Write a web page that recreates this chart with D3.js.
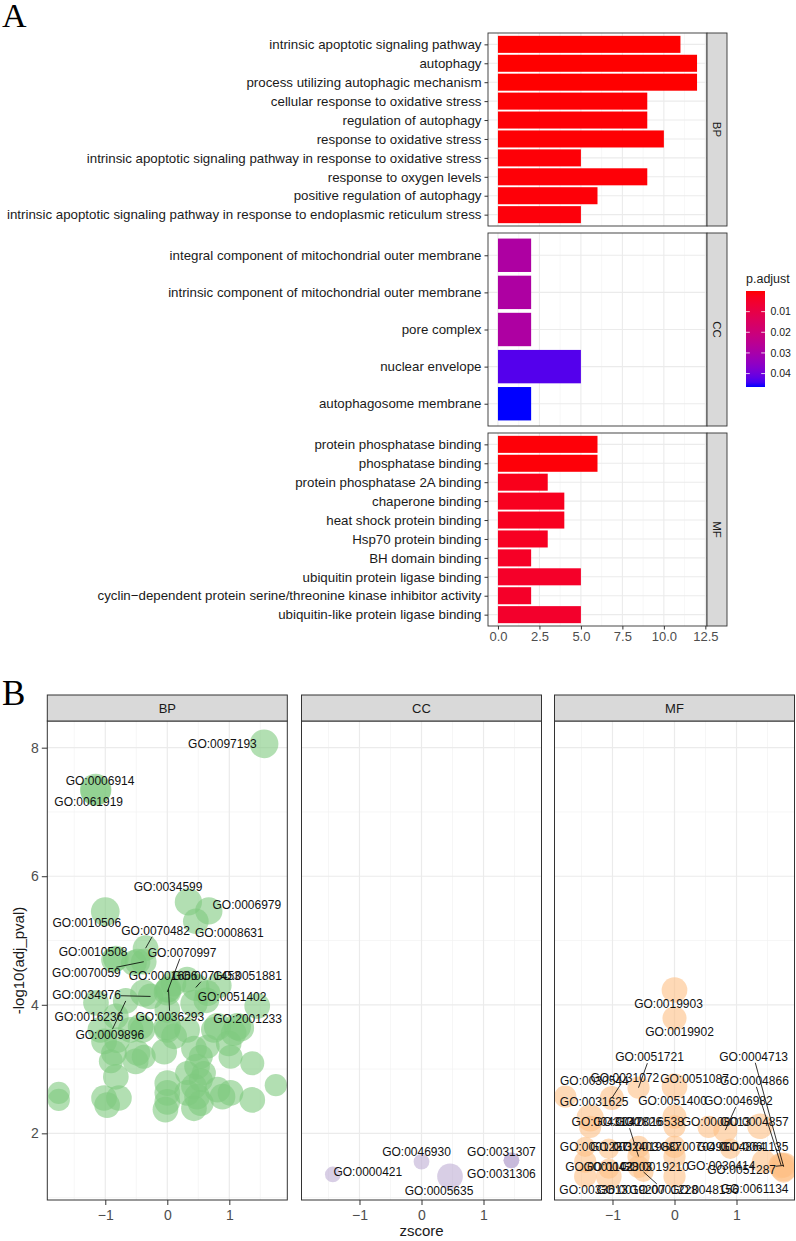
<!DOCTYPE html>
<html><head><meta charset="utf-8">
<script src="https://cdn.jsdelivr.net/npm/d3@7"></script>
<style>body{margin:0;background:#fff}</style>
</head><body><svg id="c" width="796" height="1241" xmlns="http://www.w3.org/2000/svg"></svg>
<script>
// ---------- Panel A data ----------
const bpTerms = ["intrinsic apoptotic signaling pathway","autophagy","process utilizing autophagic mechanism","cellular response to oxidative stress","regulation of autophagy","response to oxidative stress","intrinsic apoptotic signaling pathway in response to oxidative stress","response to oxygen levels","positive regulation of autophagy","intrinsic apoptotic signaling pathway in response to endoplasmic reticulum stress"];
const bpCounts = [11,12,12,9,9,10,5,9,6,5];
const bpPadj = [0.00002,0.00001,0.00001,0.0003,0.0004,0.0003,0.0005,0.0005,0.0006,0.0008];

const ccTerms = ["integral component of mitochondrial outer membrane","intrinsic component of mitochondrial outer membrane","pore complex","nuclear envelope","autophagosome membrane"];
const ccCounts = [2,2,2,5,2];
const ccPadj = [0.0285,0.0285,0.0285,0.043,0.0465];

const mfTerms = ["protein phosphatase binding","phosphatase binding","protein phosphatase 2A binding","chaperone binding","heat shock protein binding","Hsp70 protein binding","BH domain binding","ubiquitin protein ligase binding","cyclin\u2212dependent protein serine/threonine kinase inhibitor activity","ubiquitin-like protein ligase binding"];
const mfCounts = [6,6,3,4,4,3,2,5,2,5];
const mfPadj = [0.0006,0.0006,0.0025,0.003,0.003,0.0035,0.004,0.0045,0.0045,0.005];

const countTicks = [0,2.5,5,7.5,10,12.5];
const padjTicks = [0.01,0.02,0.03,0.04];

// ---------- Panel B data: [id, zscore, -log10(adj_pval), count] ----------
const bpBubbles = [
 ["GO:0097193",1.56,8.06,10],["GO:0006914",-1.155,7.35,12],["GO:0061919",-1.155,7.33,11],
 ["GO:0034599",0.34,5.60,9],["GO:0006979",0.67,5.46,9],["GO:0008631",0.46,5.30,8],
 ["GO:0010506",-1.0,5.45,10],["GO:0070482",-0.35,4.88,8],["GO:0010508",-0.83,4.72,8],
 ["GO:0070059",-0.38,4.67,8],["GO:0034976",-0.27,4.13,8],["GO:0016236",-1.15,4.03,8],
 ["GO:0009896",-0.67,4.06,8],["GO:0070997",0.0,4.20,9],["GO:0036293",0.02,4.24,8],
 ["GO:0001666",0.1,4.33,8],["GO:0071453",0.46,4.27,9],["GO:0051881",0.83,4.30,8],
 ["GO:0051402",0.63,4.07,8],["GO:2001233",1.45,3.98,8],
 ["",-0.48,4.67,8],["",-0.38,4.18,9],["",0.32,4.39,8],["",0.43,4.02,9],["",0.81,3.66,9],
 ["",1.13,3.66,9],["",-0.40,3.61,8],["",0,3.66,9],["",-1.75,2.63,6],["",-1.75,2.52,6],
 ["",-1.02,2.55,8],["",-0.97,2.44,8],["",-0.78,2.55,8],["",-0.83,2.88,8],["",-0.91,3.12,7],
 ["",-0.86,3.25,8],["",-1.02,3.43,8],["",-0.81,3.45,8],["",-0.48,3.25,8],["",-0.51,3.12,8],
 ["",-0.38,3.19,7],["",-0.43,3.66,8],["",-0.59,3.61,8],["",0,2.78,8],["",0,2.63,8],
 ["",0,2.49,8],["",-0.03,2.37,8],["",-0.05,3.27,8],["",0,3.61,8],["",0.11,3.51,8],
 ["",0.43,2.39,8],["",0.48,2.57,8],["",0.43,2.73,8],["",0.54,2.83,7],["",0.32,2.94,7],
 ["",0.48,3.04,8],["",0.54,3.19,7],["",0.43,3.32,8],["",0.65,3.35,7],["",0.32,3.61,8],
 ["",0.81,2.68,8],["",0.89,2.57,8],["",1.02,2.63,8],["",1.37,2.52,8],["",1.37,3.09,7],
 ["",1.75,2.75,6],["",1.02,3.19,7],["",0.99,3.40,8],["",1.07,3.56,8],["",1.18,3.64,9],
 ["",0.75,3.61,8],["",0.59,2.94,7],["",0.32,2.63,8],["",0.54,2.47,8],["",-0.86,4.70,8],
 ["",-0.54,4.65,8],["",0,4.23,8],["",0.65,4.18,8],["",0,3.92,8],["",-0.83,3.82,8],
 ["",-1.08,3.61,8]
];
const ccBubbles = [
 ["GO:0000421",-1.43,1.36,3],["GO:0046930",0,1.56,3],["GO:0005635",0.46,1.33,8],
 ["GO:0031307",1.45,1.58,3],["GO:0031306",1.45,1.58,3]
];
const mfBubbles = [
 ["GO:0019903",0,4.23,8],["GO:0019902",0,3.79,7],["GO:0051721",-0.58,2.71,6],
 ["GO:0031072",-1.01,2.55,7],["GO:0030544",-1.76,2.57,6],["GO:0031625",-1.36,2.24,9],
 ["GO:0051087",0,2.73,8],["GO:0051400",0,2.26,7],["GO:0046982",0.82,2.05,7],
 ["GO:0004713",1.76,1.48,10],["GO:0004866",1.72,1.50,8],["GO:0004857",1.38,2.11,8],
 ["GO:0008013",0.55,2.10,6],["GO:0043130",-1.36,2.10,6],["GO:0042826",-0.58,1.64,6],
 ["GO:0016538",0,2.11,6],["GO:0001227",-1.44,1.79,5],["GO:0032403",-1.06,1.76,5],
 ["GO:0019887",-0.58,1.79,6],["GO:0070491",0,1.79,6],["GO:0004864",0.9,1.76,5],
 ["GO:0061135",1.44,1.56,7],["GO:0001102",-1.44,1.56,6],["GO:0042803",-1.06,1.45,5],
 ["GO:0019210",-0.58,1.48,6],["GO:0030414",0,1.64,6],["GO:0051287",1.76,1.50,7],
 ["GO:0033613",-1.44,1.33,6],["GO:0019207",-1.06,1.33,8],["GO:0001228",-0.5,1.40,5],
 ["GO:0048156",0,1.33,6],["GO:0061134",1.76,1.42,7]
];
const zTicks = [-1,0,1];
const pvalTicks = [2,4,6,8];

// ---------- label layout (pixel offsets from point, segment flag) ----------
const labelLayout = {
 "GO:0097193":[-41.6,0,0],"GO:0006914":[4.4,-8.8,0],"GO:0061919":[-7,11.5,0],
 "GO:0034599":[-20.3,-15.3,0],"GO:0006979":[38,-6,0],"GO:0008631":[33.5,12,0],
 "GO:0010506":[-18.5,11,0],"GO:0070482":[10,-17.6,1],"GO:0010508":[-22.7,-7,0],
 "GO:0070059":[-57.3,11.5,1],"GO:0034976":[-64,-1.5,1],"GO:0016236":[-7,13.8,0],
 "GO:0009896":[-16,34,1],"GO:0070997":[14.8,-39.2,1],"GO:0036293":[1.3,27.4,1],
 "GO:0001666":[-10.4,-8,0],"GO:0071453":[10.6,-11.8,1],"GO:0051881":[28.8,-10,0],
 "GO:0051402":[25.7,-3.7,0],"GO:2001233":[-9.6,13,0],
 "GO:0000421":[35,-2.5,0],"GO:0046930":[-5,-10,0],"GO:0005635":[-11,14,0],
 "GO:0031307":[-10,-9,0],"GO:0031306":[-10,13,0],
 "GO:0019903":[-6,14,0],"GO:0019902":[5,14,0],"GO:0051721":[11,-30.5,1],
 "GO:0031072":[13,-20,1],"GO:0030544":[29,-15.5,0],"GO:0031625":[4,-16,0],
 "GO:0051087":[20,-8,0],"GO:0051400":[-2,-15.5,0],"GO:0046982":[13,-29,1],
 "GO:0004713":[-30,-110,1],"GO:0004866":[-26.7,-84.6,1],"GO:0004857":[-5.7,-4,0],
 "GO:0008013":[7.4,-4.7,0],"GO:0043130":[15.8,-4.7,0],"GO:0042826":[-10.8,-34.3,1],
 "GO:0016538":[-25,-4,0],"GO:0001227":[9,0,0],"GO:0032403":[15.6,-2,0],
 "GO:0019887":[9,0,0],"GO:0070491":[20,0,0],"GO:0004864":[0.7,-2,0],
 "GO:0061135":[-9.4,-15,0],"GO:0001102":[14,5,0],"GO:0042803":[9,-2,0],
 "GO:0019210":[16,0,0],"GO:0030414":[46.5,9.7,0],"GO:0051287":[-42,4,1],
 "GO:0033613":[8.5,13.4,0],"GO:0019207":[22,13.4,0],"GO:0001228":[20,18,1],
 "GO:0048156":[30,13.4,0],"GO:0061134":[-29,18.5,0]
};

const FONT = "'Liberation Sans', Arial, Helvetica, sans-serif";
const SERIF = "'Liberation Serif','Times New Roman',serif";
const svg = d3.select("#c").attr("font-family", FONT);
svg.append("rect").attr("width",796).attr("height",1241).attr("fill","#fff");

// ================= PANEL A =================
svg.append("text").attr("x",2).attr("y",27).attr("font-family",SERIF).attr("font-size",34).text("A");

const aX0 = 488, aX1 = 707, aH = 193, aTops = [33,233,433], stripW = 20;
const xA = d3.scaleLinear().domain([-0.6,12.6]).range([aX0,aX1]);
const pAll = bpPadj.concat(ccPadj, mfPadj);
const pExt = d3.extent(pAll);
const fillA = d3.scaleLinear().domain(pExt).range(["#FF0000","#0000FF"]).interpolate(d3.interpolateLab);
const minorA = countTicks.slice(0,-1).map((d,i)=>(d+countTicks[i+1])/2);

const facetsA = [
 {label:"BP", terms:bpTerms, counts:bpCounts, padj:bpPadj},
 {label:"CC", terms:ccTerms, counts:ccCounts, padj:ccPadj},
 {label:"MF", terms:mfTerms, counts:mfCounts, padj:mfPadj}
];
facetsA.forEach((f,i)=>{
  const top = aTops[i], n = f.terms.length, u = aH/(n+0.2);
  const y = d3.scalePoint().domain(f.terms).range([top+0.6*u, top+aH-0.6*u]);
  const g = svg.append("g");
  g.append("rect").attr("x",aX0).attr("y",top).attr("width",aX1-aX0).attr("height",aH).attr("fill","#fff");
  g.selectAll(".vmin").data(minorA).join("line").attr("x1",d=>xA(d)).attr("x2",d=>xA(d))
    .attr("y1",top).attr("y2",top+aH).attr("stroke","#F2F2F2").attr("stroke-width",0.6);
  g.selectAll(".vmaj").data(countTicks).join("line").attr("x1",d=>xA(d)).attr("x2",d=>xA(d))
    .attr("y1",top).attr("y2",top+aH).attr("stroke","#EBEBEB").attr("stroke-width",1.1);
  g.selectAll(".hmaj").data(f.terms).join("line").attr("x1",aX0).attr("x2",aX1)
    .attr("y1",d=>y(d)).attr("y2",d=>y(d)).attr("stroke","#EBEBEB").attr("stroke-width",1.1);
  g.selectAll(".bar").data(f.terms).join("rect")
    .attr("x",xA(0)).attr("y",d=>y(d)-0.45*u)
    .attr("width",(d,j)=>xA(f.counts[j])-xA(0)).attr("height",0.9*u)
    .attr("fill",(d,j)=>fillA(f.padj[j]));
  g.append("rect").attr("x",aX0).attr("y",top).attr("width",aX1-aX0).attr("height",aH)
    .attr("fill","none").attr("stroke","#333").attr("stroke-width",0.9);
  // strip
  g.append("rect").attr("x",aX1).attr("y",top).attr("width",stripW).attr("height",aH)
    .attr("fill","#D9D9D9").attr("stroke","#333").attr("stroke-width",0.9);
  g.append("text").attr("transform",`translate(${aX1+stripW/2},${top+aH/2}) rotate(90)`)
    .attr("text-anchor","middle").attr("dy","0.35em").attr("font-size",11.5).attr("fill","#1A1A1A").text(f.label);
  // y axis
  const ax = g.append("g").attr("transform",`translate(${aX0},0)`)
    .call(d3.axisLeft(y).tickSize(3.5).tickPadding(3));
  ax.select(".domain").remove();
  ax.selectAll("line").attr("stroke","#333");
  ax.selectAll("text").attr("font-size",13.3).attr("fill","#1A1A1A").attr("font-family",FONT);
  if (i===2) {
    const bx = g.append("g").attr("transform",`translate(0,${top+aH})`)
      .call(d3.axisBottom(xA).tickValues(countTicks).tickFormat(d3.format(".1f")).tickSize(3.5).tickPadding(2));
    bx.select(".domain").remove();
    bx.selectAll("line").attr("stroke","#333");
    bx.selectAll("text").attr("font-size",13).attr("fill","#4D4D4D").attr("font-family",FONT);
  }
});

// legend
const lgX = 746, lgY = 291, lgW = 19, lgH = 96;
const defs = svg.append("defs");
const grad = defs.append("linearGradient").attr("id","pgrad").attr("x1",0).attr("y1",0).attr("x2",0).attr("y2",1);
d3.range(0,1.0001,0.05).forEach(t=>{
  grad.append("stop").attr("offset",t).attr("stop-color",fillA(pExt[0]+t*(pExt[1]-pExt[0])));
});
svg.append("text").attr("x",lgX).attr("y",283).attr("font-size",12.5).attr("fill","#1A1A1A").text("p.adjust");
svg.append("rect").attr("x",lgX).attr("y",lgY).attr("width",lgW).attr("height",lgH).attr("fill","url(#pgrad)");
const lgScale = d3.scaleLinear().domain(pExt).range([lgY,lgY+lgH]);
padjTicks.forEach(p=>{
  const yy = lgScale(p);
  svg.append("line").attr("x1",lgX).attr("x2",lgX+3.8).attr("y1",yy).attr("y2",yy).attr("stroke","#fff").attr("stroke-width",0.8);
  svg.append("line").attr("x1",lgX+lgW-3.8).attr("x2",lgX+lgW).attr("y1",yy).attr("y2",yy).attr("stroke","#fff").attr("stroke-width",0.8);
  svg.append("text").attr("x",lgX+lgW+5.5).attr("y",yy).attr("dy","0.35em").attr("font-size",10.5).attr("fill","#1A1A1A").text(d3.format(".2f")(p));
});

// ================= PANEL B =================
svg.append("text").attr("x",2).attr("y",705).attr("font-family",SERIF).attr("font-size",35).text("B");

const bLefts = [47.3,301.5,554.5], bW = 240, bTop = 721, bBot = 1200, sTop = 695;
const yB = d3.scaleLinear().domain([0.963,8.415]).range([bBot,bTop]);
const rB = d3.scaleSqrt().domain([0,14]).range([0,17]);
const zMinor = [-1.5,-0.5,0.5,1.5], pMinor = [1,3,5,7];
const facetsB = [
 {label:"BP", data:bpBubbles, color:"#7FC97F"},
 {label:"CC", data:ccBubbles, color:"#BEAED4"},
 {label:"MF", data:mfBubbles, color:"#FDC086"}
];
facetsB.forEach((f,i)=>{
  const L = bLefts[i];
  const x = d3.scaleLinear().domain([-1.935,1.935]).range([L,L+bW]);
  const g = svg.append("g");
  g.append("rect").attr("x",L).attr("y",bTop).attr("width",bW).attr("height",bBot-bTop).attr("fill","#fff");
  g.selectAll(".vm").data(zMinor).join("line").attr("x1",d=>x(d)).attr("x2",d=>x(d))
    .attr("y1",bTop).attr("y2",bBot).attr("stroke","#F2F2F2").attr("stroke-width",0.7);
  g.selectAll(".hm").data(pMinor).join("line").attr("x1",L).attr("x2",L+bW)
    .attr("y1",d=>yB(d)).attr("y2",d=>yB(d)).attr("stroke","#F2F2F2").attr("stroke-width",0.7);
  g.selectAll(".vM").data(zTicks).join("line").attr("x1",d=>x(d)).attr("x2",d=>x(d))
    .attr("y1",bTop).attr("y2",bBot).attr("stroke","#EBEBEB").attr("stroke-width",1.2);
  g.selectAll(".hM").data(pvalTicks).join("line").attr("x1",L).attr("x2",L+bW)
    .attr("y1",d=>yB(d)).attr("y2",d=>yB(d)).attr("stroke","#EBEBEB").attr("stroke-width",1.2);
  const cid = "clipB"+i;
  defs.append("clipPath").attr("id",cid).append("rect").attr("x",L).attr("y",bTop).attr("width",bW).attr("height",bBot-bTop);
  const cg = g.append("g").attr("clip-path",`url(#${cid})`);
  cg.selectAll("circle").data(f.data).join("circle")
    .attr("cx",d=>x(d[1])).attr("cy",d=>yB(d[2])).attr("r",d=>rB(d[3]))
    .attr("fill",f.color).attr("fill-opacity",0.6);
  // segments
  const labeled = f.data.filter(d=>d[0] && labelLayout[d[0]]);
  labeled.forEach(d=>{
    const lay = labelLayout[d[0]];
    if (!lay[2]) return;
    const px = x(d[1]), py = yB(d[2]);
    const cx = px+lay[0], cy = py+lay[1];
    const vx = px-cx, vy = py-cy, hw = 34, hh = 6;
    const s = Math.min(vx===0?Infinity:hw/Math.abs(vx), vy===0?Infinity:hh/Math.abs(vy));
    if (s>=1) return;
    g.append("line").attr("x1",cx+s*vx).attr("y1",cy+s*vy).attr("x2",px).attr("y2",py)
      .attr("stroke","#000").attr("stroke-width",0.8);
  });
  g.selectAll(".lab").data(labeled).join("text")
    .attr("x",d=>x(d[1])+labelLayout[d[0]][0]).attr("y",d=>yB(d[2])+labelLayout[d[0]][1])
    .attr("text-anchor","middle").attr("dy","0.35em").attr("font-size",12).attr("fill","#111")
    .text(d=>d[0]);
  g.append("rect").attr("x",L).attr("y",bTop).attr("width",bW).attr("height",bBot-bTop)
    .attr("fill","none").attr("stroke","#333").attr("stroke-width",1);
  g.append("rect").attr("x",L).attr("y",sTop).attr("width",bW).attr("height",bTop-sTop)
    .attr("fill","#D9D9D9").attr("stroke","#333").attr("stroke-width",1);
  g.append("text").attr("x",L+bW/2).attr("y",(sTop+bTop)/2).attr("dy","0.35em").attr("text-anchor","middle")
    .attr("font-size",13).attr("fill","#1A1A1A").text(f.label);
  const bx = g.append("g").attr("transform",`translate(0,${bBot})`)
    .call(d3.axisBottom(x).tickValues(zTicks).tickFormat(d3.format("d")).tickSize(5).tickPadding(5));
  bx.select(".domain").remove();
  bx.selectAll("line").attr("stroke","#333");
  bx.selectAll("text").attr("font-size",14).attr("fill","#4D4D4D").attr("font-family",FONT);
  if (i===0) {
    const ay = g.append("g").attr("transform",`translate(${L},0)`)
      .call(d3.axisLeft(yB).tickValues(pvalTicks).tickFormat(d3.format("d")).tickSize(5.5).tickPadding(3));
    ay.select(".domain").remove();
    ay.selectAll("line").attr("stroke","#333");
    ay.selectAll("text").attr("font-size",14).attr("fill","#4D4D4D").attr("font-family",FONT);
  }
});
svg.append("text").attr("transform",`translate(19,${(bTop+bBot)/2}) rotate(-90)`).attr("text-anchor","middle")
  .attr("dy","0.35em").attr("font-size",15).attr("fill","#1A1A1A").text("-log10(adj_pval)");
svg.append("text").attr("x",(bLefts[1]+bLefts[1]+bW)/2).attr("y",1236).attr("text-anchor","middle")
  .attr("font-size",15).attr("fill","#1A1A1A").text("zscore");
</script>
</body></html>
